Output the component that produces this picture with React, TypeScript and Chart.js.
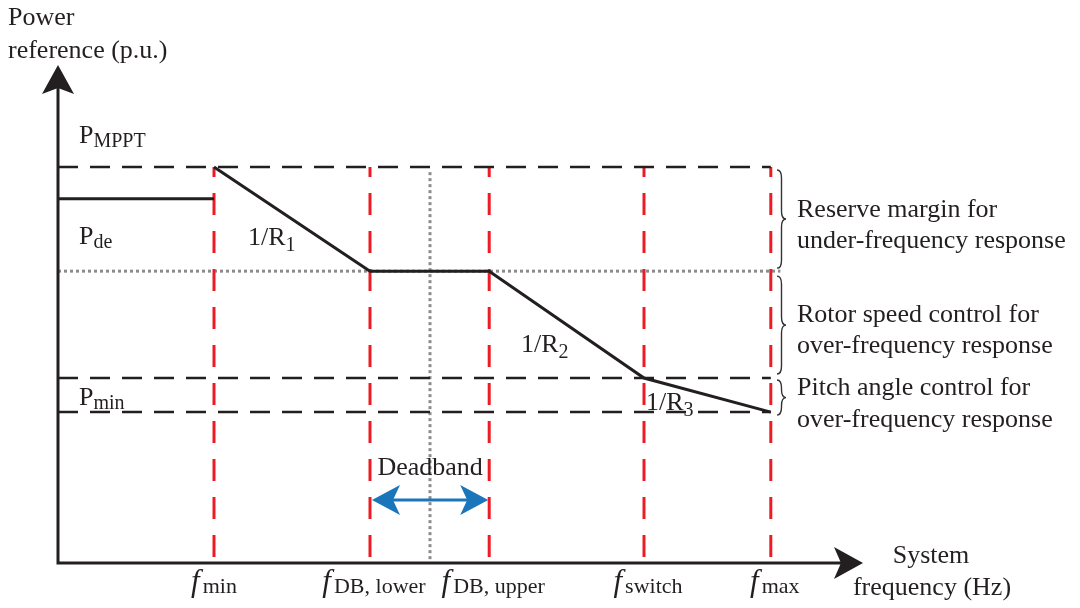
import { useEffect, useRef } from 'react';
import { Chart, registerables } from 'chart.js';

Chart.register(...registerables);

// ---- data ----
const freqSubscripts = ['min', 'DB, lower', 'DB, upper', 'switch', 'max'];
const freqValues = [19.5, 39, 53.9, 73.25, 89.1];
const curvePower = [1.0, 0.737, 0.737, 0.467, 0.381];
const slopeSubscripts = ['1', '2', '3'];
const pMPPT = 1.0;
const pDe = 0.92;
const pDeadbandLevel = 0.737;
const pPitchTop = 0.467;
const pMin = 0.381;
const deadbandCentre = 46.5;
const deadbandTop = 0.987;
const dottedEnd = 90.3;
const deadbandArrowLevel = 0.159;
const regionTexts = [
  ['Reserve margin for', 'under-frequency response'],
  ['Rotor speed control for', 'over-frequency response'],
  ['Pitch angle control for', 'over-frequency response'],
];
const yAxisTitle = ['Power', 'reference (p.u.)'];
const xAxisTitle = ['System', 'frequency (Hz)'];

const BLACK = '#231f20';
const RED = '#ed1c24';
const GREY = '#8c8c8c';
const BLUE = '#1b75bb';
const FONT = '"Liberation Serif", "Times New Roman", serif';

function seg(x1: number, y1: number, x2: number, y2: number) {
  return [{ x: x1, y: y1 }, { x: x2, y: y2 }];
}

function drawSub(ctx: CanvasRenderingContext2D, x: number, y: number, main: string, sub: string,
  mainFont: string, subFont: string, subDy: number, gap: number, measureOnly = false) {
  ctx.font = mainFont;
  const w1 = ctx.measureText(main).width;
  ctx.font = subFont;
  const w2 = ctx.measureText(sub).width;
  if (!measureOnly) {
    ctx.font = mainFont;
    ctx.fillText(main, x, y);
    ctx.font = subFont;
    ctx.fillText(sub, x + w1 + gap, y + subDy);
  }
  return w1 + gap + w2;
}

function brace(ctx: CanvasRenderingContext2D, x: number, y1: number, y2: number, w: number) {
  const ym = (y1 + y2) / 2;
  const r = Math.min(8, (y2 - y1) / 4);
  const xm = x + w / 2;
  ctx.beginPath();
  ctx.moveTo(x, y1);
  ctx.quadraticCurveTo(xm, y1, xm, y1 + r);
  ctx.lineTo(xm, ym - r);
  ctx.quadraticCurveTo(xm, ym, x + w, ym);
  ctx.quadraticCurveTo(xm, ym, xm, ym + r);
  ctx.lineTo(xm, y2 - r);
  ctx.quadraticCurveTo(xm, y2, x, y2);
  ctx.stroke();
}

const decorPlugin = {
  id: 'decor',
  afterDatasetsDraw(chart: any) {
    const ctx: CanvasRenderingContext2D = chart.ctx;
    const xs = chart.scales.x;
    const ys = chart.scales.y;
    const X = (v: number) => xs.getPixelForValue(v);
    const Y = (v: number) => ys.getPixelForValue(v);
    const x0 = X(0), y0 = Y(0);
    ctx.save();

    // axes
    ctx.strokeStyle = BLACK;
    ctx.fillStyle = BLACK;
    ctx.lineWidth = 3;
    ctx.beginPath();
    ctx.moveTo(x0, y0 + 1.5);
    ctx.lineTo(x0, chart.chartArea.top + 20);
    ctx.moveTo(x0 - 1.5, y0);
    ctx.lineTo(chart.chartArea.right - 10, y0);
    ctx.stroke();
    // y arrow head
    const ty = chart.chartArea.top - 3;
    ctx.beginPath();
    ctx.moveTo(x0, ty);
    ctx.lineTo(x0 + 16, ty + 29);
    ctx.lineTo(x0, ty + 23);
    ctx.lineTo(x0 - 16, ty + 29);
    ctx.closePath();
    ctx.fill();
    // x arrow head
    const tx = chart.chartArea.right + 5;
    ctx.beginPath();
    ctx.moveTo(tx, y0);
    ctx.lineTo(tx - 29, y0 - 16);
    ctx.lineTo(tx - 22, y0);
    ctx.lineTo(tx - 29, y0 + 16);
    ctx.closePath();
    ctx.fill();

    // deadband arrow
    const ay = Y(deadbandArrowLevel);
    const ax1 = X(freqValues[1]) + 2;
    const ax2 = X(freqValues[2]) - 1;
    ctx.strokeStyle = BLUE;
    ctx.fillStyle = BLUE;
    ctx.lineWidth = 3;
    ctx.beginPath();
    ctx.moveTo(ax1 + 20, ay);
    ctx.lineTo(ax2 - 20, ay);
    ctx.stroke();
    ctx.beginPath();
    ctx.moveTo(ax1, ay);
    ctx.lineTo(ax1 + 28, ay - 15);
    ctx.lineTo(ax1 + 21, ay);
    ctx.lineTo(ax1 + 28, ay + 15);
    ctx.closePath();
    ctx.fill();
    ctx.beginPath();
    ctx.moveTo(ax2, ay);
    ctx.lineTo(ax2 - 28, ay - 15);
    ctx.lineTo(ax2 - 21, ay);
    ctx.lineTo(ax2 - 28, ay + 15);
    ctx.closePath();
    ctx.fill();

    // text
    ctx.fillStyle = BLACK;
    ctx.textBaseline = 'alphabetic';
    ctx.textAlign = 'left';
    const main = `26px ${FONT}`;
    const sub = `20px ${FONT}`;

    ctx.font = main;
    ctx.fillText(yAxisTitle[0], 8, 25);
    ctx.fillText(yAxisTitle[1], 8, 58);

    ctx.textAlign = 'center';
    ctx.fillText(xAxisTitle[0], 931, 563);
    ctx.fillText(xAxisTitle[1], 932, 595);
    ctx.fillText('Deadband', (ax1 + ax2) / 2, 475);
    ctx.textAlign = 'left';

    drawSub(ctx, x0 + 21, Y(pMPPT) - 24, 'P', 'MPPT', main, sub, 4, 0);
    drawSub(ctx, x0 + 21, Y(pDe) + 45, 'P', 'de', main, sub, 4, 0);
    drawSub(ctx, x0 + 21, Y(pMin) - 7, 'P', 'min', main, sub, 4, 0);

    drawSub(ctx, 248, 245, '1/R', slopeSubscripts[0], main, sub, 6, 0);
    drawSub(ctx, 521, 352, '1/R', slopeSubscripts[1], main, sub, 6, 0);
    drawSub(ctx, 646, 410, '1/R', slopeSubscripts[2], main, sub, 6, 0);

    // frequency tick labels
    const fMain = `italic 31px ${FONT}`;
    const fSub = `22px ${FONT}`;
    freqValues.forEach((f, i) => {
      const w = drawSub(ctx, 0, 0, 'f', freqSubscripts[i], fMain, fSub, 2, 3, true);
      const cx = X(f) + (i === 0 ? 0 : 4);
      drawSub(ctx, cx - w / 2, 591, 'f', freqSubscripts[i], fMain, fSub, 2, 3);
    });

    // braces and region texts
    ctx.strokeStyle = '#333';
    ctx.lineWidth = 1.4;
    const bx = 777;
    brace(ctx, bx, Y(pMPPT) + 3, Y(pDeadbandLevel) - 3, 9);
    brace(ctx, bx, Y(pDeadbandLevel) + 5, Y(pPitchTop) - 4, 9);
    brace(ctx, bx, Y(pPitchTop) + 2, Y(pMin) + 3, 9);

    ctx.font = main;
    const baselines = [[217, 248], [322, 353], [395, 427]];
    regionTexts.forEach((lines, i) => {
      lines.forEach((t, j) => ctx.fillText(t, 797, baselines[i][j]));
    });

    ctx.restore();
  },
};

export default function App() {
  const ref = useRef<HTMLCanvasElement>(null);
  useEffect(() => {
    if (!ref.current) return;
    const fMax = freqValues[freqValues.length - 1];
    const base = { pointRadius: 0, fill: false, tension: 0 };
    const datasets: any[] = [
      { ...base, data: freqValues.map((f, i) => ({ x: f, y: curvePower[i] })), borderColor: BLACK, borderWidth: 3 },
      { ...base, data: seg(0, pDe, freqValues[0], pDe), borderColor: BLACK, borderWidth: 3 },
      { ...base, data: seg(0, pMPPT, fMax, pMPPT), borderColor: BLACK, borderWidth: 2.5, borderDash: [20, 12] },
      { ...base, data: seg(0, pPitchTop, fMax, pPitchTop), borderColor: BLACK, borderWidth: 2.5, borderDash: [20, 12] },
      { ...base, data: seg(0, pMin, fMax, pMin), borderColor: BLACK, borderWidth: 2.5, borderDash: [20, 12] },
      ...freqValues.map((f) => ({ ...base, data: seg(f, pMPPT, f, 0), borderColor: RED, borderWidth: 3, borderDash: [22, 16], borderDashOffset: 12 })),
      { ...base, data: seg(0, pDeadbandLevel, dottedEnd, pDeadbandLevel), borderColor: GREY, borderWidth: 3, borderDash: [3, 3] },
      { ...base, data: seg(deadbandCentre, deadbandTop, deadbandCentre, 0), borderColor: GREY, borderWidth: 3, borderDash: [3, 3] },
    ];
    const chart = new Chart(ref.current, {
      type: 'line',
      data: { datasets },
      options: {
        animation: false,
        responsive: false,
        maintainAspectRatio: false,
        layout: { padding: { left: 58, right: 222, top: 68, bottom: 45 } },
        plugins: { legend: { display: false }, tooltip: { enabled: false }, title: { display: false } },
        scales: {
          x: { type: 'linear', min: 0, max: 100, display: false },
          y: { type: 'linear', min: 0, max: 1.25, display: false },
        },
        elements: { line: { borderCapStyle: 'butt', borderJoinStyle: 'miter' } },
      },
      plugins: [decorPlugin],
    });
    return () => chart.destroy();
  }, []);
  return (
    <div style={{ position: 'fixed', left: 0, top: 0, width: 1080, height: 608, background: '#fff' }}>
      <canvas ref={ref} width={1080} height={608} style={{ width: 1080, height: 608, display: 'block' }} />
    </div>
  );
}
